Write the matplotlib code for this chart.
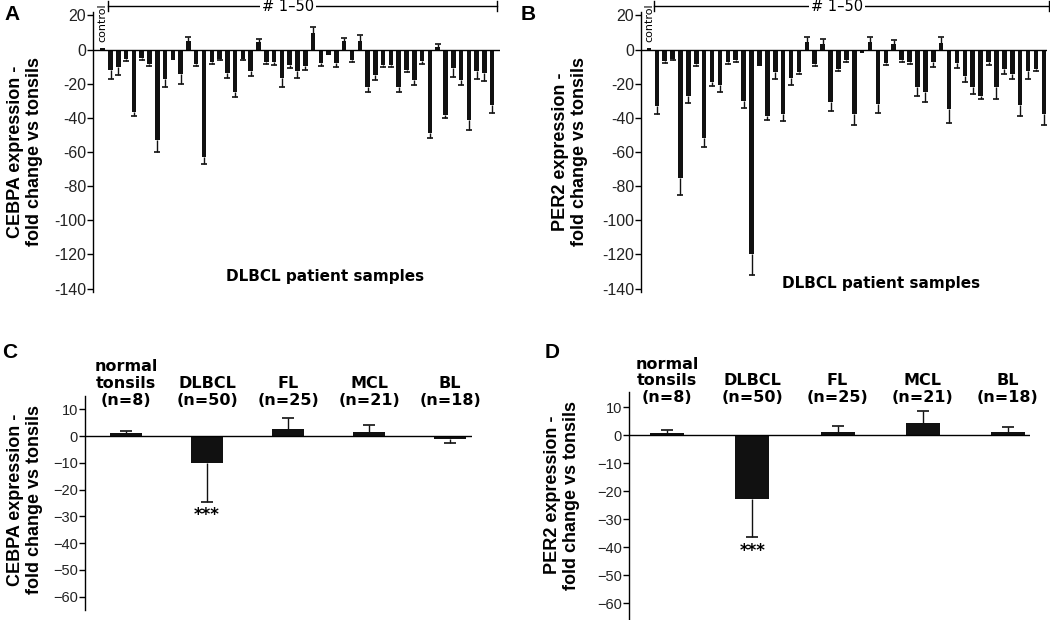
import matplotlib
matplotlib.use("Agg")
import matplotlib.pyplot as plt
import numpy as np

# panel A / B: 51 bars each (control + samples 1-50)
a_vals = [1, -12, -10, -5.5, -36.5, -5, -8.3, -53, -17.5, -6, -14.5,
          5, -8.3, -63, -7, -5.5, -14, -24.6, -5.5, -12.8, 4.3,
          -7, -7, -16.8, -8.8, -12.8, -9.8, 9.8, -7.9, -3, -7.9,
          4.9, -5.9, 4.9, -22, -14.8, -8.8, -8.8, -22, -11.8, -17.7,
          -6.9, -49, 1.4, -38.4, -10.8, -17.7, -41.3, -12.8, -13.8, -32.5]
a_errs = [0, 5, 5, 1, 2.5, 1, 1.2, 7, 4.5, 0, 5.5,
          2.5, 1.2, 4, 1.3, 0.8, 2.7, 3.4, 0.8, 2.6, 2,
          1.5, 1.9, 4.9, 2, 3.9, 2.4, 3.6, 1.5, 0, 2.3,
          1.6, 1.6, 3.6, 3, 2.9, 1.4, 1.4, 3, 1.2, 3.3,
          1.6, 2.6, 1.6, 1.4, 5.2, 3, 5.7, 4.2, 4.9, 4.5]

b_vals = [1, -33, -6.5, -5.4, -75, -27, -8.5, -52, -19, -20.5, -7,
          -6, -30, -120, -9.7, -39, -13, -38, -16.5, -13, 4.3,
          -8.5, 3, -31, -11.5, -6, -38, -2, 4.5, -32, -8,
          3.3, -6, -7.4, -22, -25, -7, 4, -35, -8, -15.5,
          -22, -27, -7.4, -22, -11.6, -14.5, -32.5, -12.6, -11.6, -38]
b_errs = [0, 5, 1.3, 1, 10, 4.5, 1.2, 5, 2.5, 4.5, 1.7,
          1, 4, 12, 0, 2, 4.5, 4, 4.5, 1.5, 3,
          1, 3, 5, 1.1, 1, 6, 0, 2.9, 5, 1,
          2.1, 1, 1.3, 5, 6, 3, 3.4, 8, 3, 3.5,
          4, 2, 1.9, 7, 2.9, 2.5, 6.5, 4.4, 1, 6]

ab_ticks = [20, 0, -20, -40, -60, -80, -100, -120, -140]
ab_ticklabels = ["20", "0", "-20", "-40", "-60", "-80", "-100", "-120", "-140"]

# panel C / D: group means
groups = ["normal\ntonsils\n(n=8)", "DLBCL\n(n=50)", "FL\n(n=25)", "MCL\n(n=21)", "BL\n(n=18)"]
c_vals = [1, -10, 2.75, 1.6, -1.1]
c_errs = [1, 14.75, 4.1, 2.4, 1.4]
d_vals = [1, -22.6, 1.07, 4.5, 1.07]
d_errs = [1, 13.7, 2.4, 4.1, 1.9]
cd_ticks = [10, 0, -10, -20, -30, -40, -50, -60]

W, H = 1050, 620
fig = plt.figure(figsize=(W / 100, H / 100), dpi=100)

def box(l, t, r, b):
    return [l / W, 1 - b / H, (r - l) / W, (b - t) / H]

#error bars only point away from zero, cap only at the far end
def draw_errors(ax, x, vals, errs, cap):
    vals = np.array(vals, dtype=float)
    errs = np.array(errs, dtype=float)
    ends = vals + np.sign(vals) * errs
    ax.vlines(x, vals, ends, color="#111111", lw=1.0, zorder=1)
    keep = errs > 0
    ax.scatter(x[keep], ends[keep], marker="_", s=cap, color="#111111",
               linewidths=1.2, zorder=1)

def style_axis(ax, ticks, labels, size):
    for s in ["top", "right", "bottom"]:
        ax.spines[s].set_visible(False)
    ax.spines["left"].set_linewidth(1.0)
    ax.set_xticks([])
    ax.set_yticks(ticks)
    ax.set_yticklabels(labels, fontsize=size, color="#222222", family="Liberation Sans")
    ax.tick_params(axis="y", direction="out", length=4, width=1.0, pad=1)
    ax.axhline(0, color="black", lw=1.0, zorder=3)

def put_letter(letter, xy):
    fig.text(xy[0] / W, 1 - xy[1] / H, letter, fontsize=15, fontweight="bold",
             family="Liberation Sans", ha="center", va="center")

def put_ylabel(text, xy):
    fig.text(xy[0] / W, 1 - xy[1] / H, text, rotation=90, ha="center", va="center",
             fontsize=13, fontweight="bold", family="Liberation Sans", linespacing=1.15,
             multialignment="center")

def samples_panel(rect, vals, errs, xlim, letter, letter_xy, ylab, ylab_x, xlab_xy):
    ax = fig.add_axes(box(*rect))
    x = np.arange(len(vals))
    ax.bar(x, vals, width=0.58, color="#111111", zorder=2)
    draw_errors(ax, x, vals, errs, 16)
    ax.set_xlim(*xlim)
    ax.set_ylim(-142, 22)
    style_axis(ax, ab_ticks, ab_ticklabels, 11.5)
    # control label and bracket for samples 1-50
    ax.text(0, 27, "control", rotation=90, ha="center", va="top", fontsize=8,
            family="DejaVu Sans", clip_on=False)
    ax.plot([0.7, 50.6], [25.3, 25.3], color="black", lw=1.0, clip_on=False)
    for xc in [0.7, 50.6]:
        ax.plot([xc, xc], [22.5, 28.2], color="black", lw=1.0, clip_on=False)
    ax.text(23.8, 25.3, "# 1\u201350", ha="center", va="center", fontsize=10.5,
            family="DejaVu Sans", clip_on=False,
            bbox=dict(facecolor="white", edgecolor="none", pad=1.5))
    put_letter(letter, letter_xy)
    put_ylabel(ylab, (ylab_x, 152))
    fig.text(xlab_xy[0] / W, 1 - xlab_xy[1] / H, "DLBCL patient samples", ha="center",
             va="center", fontsize=11, fontweight="bold", family="DejaVu Sans")
    return ax

def groups_panel(rect, vals, errs, xlim, ylim, star_y, lab_y, letter, letter_xy, ylab, ylab_xy):
    ax = fig.add_axes(box(*rect))
    x = np.arange(len(vals))
    ax.bar(x, vals, width=0.4, color="#111111", zorder=2)
    draw_errors(ax, x, vals, errs, 64)
    ax.set_xlim(*xlim)
    ax.set_ylim(*ylim)
    style_axis(ax, cd_ticks, [str(t).replace("-", "\u2212") for t in cd_ticks], 10.5)
    for i, g in enumerate(groups):
        ax.text(i, lab_y, g, ha="center", va="bottom", fontsize=11.5, fontweight="bold",
                family="DejaVu Sans", linespacing=1.15, clip_on=False)
    ax.text(1, star_y, "***", ha="center", va="center", fontsize=12, fontweight="bold",
            family="DejaVu Sans")
    put_letter(letter, letter_xy)
    put_ylabel(ylab, ylab_xy)
    return ax

samples_panel((93, 12, 500, 292), a_vals, a_errs, (-1.25, 51.0), "A", (12, 14),
              "CEBPA expression -\nfold change vs tonsils", 25, (325, 277))
samples_panel((641, 12, 1047, 292), b_vals, b_errs, (-1.0, 50.4), "B", (528, 14),
              "PER2 expression -\nfold change vs tonsils", 570, (881, 284))
groups_panel((85, 396, 472, 610), c_vals, c_errs, (-0.506, 4.27), (-65, 15), -29.5, 10.5,
             "C", (10, 353), "CEBPA expression -\nfold change vs tonsils", (25, 500))
groups_panel((629, 392, 1030, 620), d_vals, d_errs, (-0.45, 4.26), (-66, 15.5), -41.5, 10.8,
             "D", (552, 352), "PER2 expression -\nfold change vs tonsils", (562, 495))

fig.savefig("out.png", dpi=100)
